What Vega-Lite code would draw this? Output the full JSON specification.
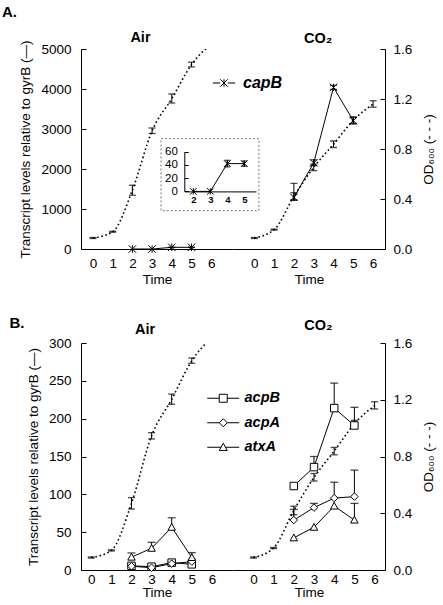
{
  "$schema": "https://vega.github.io/schema/vega-lite/v6.json",
  "background": "white",
  "padding": {"left": 1, "top": 5, "right": 5, "bottom": 0},
  "config": {
    "font": "Liberation Sans",
    "view": {"stroke": null},
    "axis": {"grid": false, "domainColor": "black", "tickColor": "black", "labelColor": "black", "titleColor": "black", "titleFontWeight": "normal", "labelFontSize": 13.5, "titleFontSize": 13.5, "domainWidth": 1, "tickWidth": 1},
    "title": {"color": "black"}
  },
  "datasets": {
    "od": [
      {"cond": "Air", "t": 0, "v": 0.088, "lo": 0.084, "hi": 0.092},
      {"cond": "Air", "t": 1, "v": 0.138, "lo": 0.134, "hi": 0.142},
      {"cond": "Air", "t": 2, "v": 0.47, "lo": 0.43, "hi": 0.51},
      {"cond": "Air", "t": 3, "v": 0.946, "lo": 0.924, "hi": 0.968},
      {"cond": "Air", "t": 4, "v": 1.203, "lo": 1.168, "hi": 1.24},
      {"cond": "Air", "t": 5, "v": 1.475, "lo": 1.457, "hi": 1.494},
      {"cond": "Air", "t": 6, "v": 1.64, "lo": null, "hi": null},
      {"cond": "CO2", "t": 0, "v": 0.088, "lo": 0.084, "hi": 0.092},
      {"cond": "CO2", "t": 1, "v": 0.155, "lo": 0.151, "hi": 0.159},
      {"cond": "CO2", "t": 2, "v": 0.42, "lo": 0.39, "hi": 0.45},
      {"cond": "CO2", "t": 3, "v": 0.653, "lo": 0.627, "hi": 0.68},
      {"cond": "CO2", "t": 4, "v": 0.838, "lo": 0.812, "hi": 0.864},
      {"cond": "CO2", "t": 5, "v": 1.03, "lo": 1.005, "hi": 1.055},
      {"cond": "CO2", "t": 6, "v": 1.16, "lo": 1.135, "hi": 1.186}
    ],
    "capB": [
      {"cond": "Air", "gene": "capB", "t": 2, "v": 0, "lo": null, "hi": null},
      {"cond": "Air", "gene": "capB", "t": 3, "v": 0, "lo": null, "hi": null},
      {"cond": "Air", "gene": "capB", "t": 4, "v": 42, "lo": 37, "hi": 47},
      {"cond": "Air", "gene": "capB", "t": 5, "v": 42, "lo": 38, "hi": 46},
      {"cond": "CO2", "gene": "capB", "t": 2, "v": 1290, "lo": 1230, "hi": 1640},
      {"cond": "CO2", "gene": "capB", "t": 3, "v": 2150, "lo": 2090, "hi": 2230},
      {"cond": "CO2", "gene": "capB", "t": 4, "v": 4040, "lo": 3990, "hi": 4090},
      {"cond": "CO2", "gene": "capB", "t": 5, "v": 3208, "lo": 3125, "hi": 3300}
    ],
    "genesB": [
      {"cond": "Air", "gene": "acpB", "t": 2, "v": 5.5, "hi": 7.5},
      {"cond": "Air", "gene": "acpB", "t": 3, "v": 4.4, "hi": 6.5},
      {"cond": "Air", "gene": "acpB", "t": 4, "v": 9.7, "hi": 12},
      {"cond": "Air", "gene": "acpB", "t": 5, "v": 7.5, "hi": 10},
      {"cond": "Air", "gene": "acpA", "t": 2, "v": 5, "hi": 7},
      {"cond": "Air", "gene": "acpA", "t": 3, "v": 3, "hi": 5},
      {"cond": "Air", "gene": "acpA", "t": 4, "v": 8.4, "hi": 10.5},
      {"cond": "Air", "gene": "acpA", "t": 5, "v": 11, "hi": 14},
      {"cond": "Air", "gene": "atxA", "t": 2, "v": 17, "hi": 22.5},
      {"cond": "Air", "gene": "atxA", "t": 3, "v": 28.7, "hi": 36.6},
      {"cond": "Air", "gene": "atxA", "t": 4, "v": 56.5, "hi": 69},
      {"cond": "Air", "gene": "atxA", "t": 5, "v": 16.5, "hi": 23},
      {"cond": "CO2", "gene": "acpB", "t": 2, "v": 111, "hi": null},
      {"cond": "CO2", "gene": "acpB", "t": 3, "v": 136, "hi": 150},
      {"cond": "CO2", "gene": "acpB", "t": 4, "v": 214, "hi": 247},
      {"cond": "CO2", "gene": "acpB", "t": 5, "v": 191, "hi": 215},
      {"cond": "CO2", "gene": "acpA", "t": 2, "v": 66, "hi": 80},
      {"cond": "CO2", "gene": "acpA", "t": 3, "v": 82.5, "hi": 88},
      {"cond": "CO2", "gene": "acpA", "t": 4, "v": 95, "hi": 116},
      {"cond": "CO2", "gene": "acpA", "t": 5, "v": 97, "hi": 132},
      {"cond": "CO2", "gene": "atxA", "t": 2, "v": 42.5, "hi": null},
      {"cond": "CO2", "gene": "atxA", "t": 3, "v": 56.5, "hi": null},
      {"cond": "CO2", "gene": "atxA", "t": 4, "v": 84.5, "hi": null},
      {"cond": "CO2", "gene": "atxA", "t": 5, "v": 66, "hi": 88}
    ]
  },
  "vconcat": [
    {
      "width": 304,
      "height": 200,
      "title": {"text": "A.", "anchor": "start", "frame": "bounds", "fontSize": 15, "fontWeight": "bold", "offset": 10, "dx": -17},
      "resolve": {"scale": {"x": "independent", "y": "independent", "shape": "independent"}},
      "layer": [
        {
          "data": {"values": [{"box": "inset"}]},
          "mark": {"type": "rect", "fillOpacity": 0, "stroke": "#777777", "strokeWidth": 1, "strokeDash": [2, 2]},
          "encoding": {
            "x": {"datum": 0.1, "type": "quantitative", "scale": {"domain": [1.47, 5.69], "range": [103.3, 175], "nice": false, "zero": false}, "axis": null},
            "x2": {"datum": 5.86},
            "y": {"datum": 79.6, "type": "quantitative", "scale": {"domain": [0, 60], "range": [142.4, 102.7], "nice": false, "zero": false}, "axis": null},
            "y2": {"datum": -29.2}
          }
        },
        {
          "data": {"name": "od"},
          "transform": [{"filter": "datum.cond === 'Air'"}],
          "mark": {"type": "line", "stroke": "black", "strokeWidth": 1.6, "strokeDash": [1.6, 2.6], "interpolate": "monotone", "clip": true},
          "encoding": {
            "x": {"field": "t", "type": "quantitative", "scale": {"domain": [-0.609, 7.107], "range": [0, 152], "nice": false, "zero": false}, "axis": null},
            "y": {"field": "v", "type": "quantitative", "scale": {"domain": [0, 1.6], "nice": false, "zero": false}, "axis": null}
          }
        },
        {
          "data": {"name": "od"},
          "transform": [{"filter": "datum.cond === 'Air' && datum.lo != null"}],
          "mark": {"type": "rule", "stroke": "black", "strokeWidth": 1},
          "encoding": {
            "x": {"field": "t", "type": "quantitative", "scale": {"domain": [-0.609, 7.107], "range": [0, 152], "nice": false, "zero": false}, "axis": null},
            "y": {"field": "lo", "type": "quantitative", "scale": {"domain": [0, 1.6], "nice": false, "zero": false}, "axis": null},
            "y2": {"field": "hi"}
          }
        },
        {
          "data": {"name": "od"},
          "transform": [{"filter": "datum.cond === 'Air' && datum.lo != null"}, {"fold": ["lo", "hi"], "as": ["k", "e"]}],
          "mark": {"type": "tick", "orient": "horizontal", "color": "black", "size": 7, "thickness": 1.3},
          "encoding": {
            "x": {"field": "t", "type": "quantitative", "scale": {"domain": [-0.609, 7.107], "range": [0, 152], "nice": false, "zero": false}, "axis": null},
            "y": {"field": "e", "type": "quantitative", "scale": {"domain": [0, 1.6], "nice": false, "zero": false}, "axis": null}
          }
        },
        {
          "data": {"name": "od"},
          "transform": [{"filter": "datum.cond === 'CO2'"}],
          "mark": {"type": "line", "stroke": "black", "strokeWidth": 1.6, "strokeDash": [1.6, 2.6], "interpolate": "monotone", "clip": true},
          "encoding": {
            "x": {"field": "t", "type": "quantitative", "scale": {"domain": [-1.076, 6.601], "range": [152, 304], "nice": false, "zero": false}, "axis": null},
            "y": {"field": "v", "type": "quantitative", "scale": {"domain": [0, 1.6], "nice": false, "zero": false},
              "axis": {"orient": "right", "values": [0, 0.4, 0.8, 1.2, 1.6], "format": ".1f", "tickSize": -5, "labelPadding": 13, "title": "OD₆₀₀ (- - -)", "titleAngle": 270, "titlePadding": 24}}
          }
        },
        {
          "data": {"name": "od"},
          "transform": [{"filter": "datum.cond === 'CO2' && datum.lo != null"}],
          "mark": {"type": "rule", "stroke": "black", "strokeWidth": 1},
          "encoding": {
            "x": {"field": "t", "type": "quantitative", "scale": {"domain": [-1.076, 6.601], "range": [152, 304], "nice": false, "zero": false}, "axis": null},
            "y": {"field": "lo", "type": "quantitative", "scale": {"domain": [0, 1.6], "nice": false, "zero": false}, "axis": null},
            "y2": {"field": "hi"}
          }
        },
        {
          "data": {"name": "od"},
          "transform": [{"filter": "datum.cond === 'CO2' && datum.lo != null"}, {"fold": ["lo", "hi"], "as": ["k", "e"]}],
          "mark": {"type": "tick", "orient": "horizontal", "color": "black", "size": 7, "thickness": 1.3},
          "encoding": {
            "x": {"field": "t", "type": "quantitative", "scale": {"domain": [-1.076, 6.601], "range": [152, 304], "nice": false, "zero": false}, "axis": null},
            "y": {"field": "e", "type": "quantitative", "scale": {"domain": [0, 1.6], "nice": false, "zero": false}, "axis": null}
          }
        },
        {
          "data": {"name": "capB"},
          "transform": [{"filter": "datum.cond === 'Air'"}],
          "mark": {"type": "line", "stroke": "black", "strokeWidth": 1},
          "encoding": {
            "x": {"field": "t", "type": "quantitative", "scale": {"domain": [-0.609, 7.107], "range": [0, 152], "nice": false, "zero": false},
              "axis": {"orient": "bottom", "values": [0, 1, 2, 3, 4, 5, 6], "ticks": false, "labelPadding": 7, "title": "Time", "titlePadding": 3, "labelFlush": false}},
            "y": {"field": "v", "type": "quantitative", "scale": {"domain": [0, 5000], "nice": false, "zero": false},
              "axis": {"orient": "left", "values": [0, 1000, 2000, 3000, 4000, 5000], "format": "d", "tickSize": -5, "labelPadding": 15, "title": "Transcript levels relative to gyrB (—)", "titlePadding": 8}}
          }
        },
        {
          "data": {"name": "capB"},
          "transform": [{"filter": "datum.cond === 'Air' && datum.lo != null"}, {"fold": ["lo", "hi"], "as": ["k", "e"]}],
          "mark": {"type": "tick", "orient": "horizontal", "color": "black", "size": 7, "thickness": 1.2},
          "encoding": {
            "x": {"field": "t", "type": "quantitative", "scale": {"domain": [-0.609, 7.107], "range": [0, 152], "nice": false, "zero": false}, "axis": null},
            "y": {"field": "e", "type": "quantitative", "scale": {"domain": [0, 5000], "nice": false, "zero": false}, "axis": null}
          }
        },
        {
          "data": {"name": "capB"},
          "transform": [{"filter": "datum.cond === 'Air'"}],
          "mark": {"type": "point", "shape": "M-1,-1L1,1M-1,1L1,-1M0,-1L0,1", "size": 56, "filled": false, "stroke": "black", "strokeWidth": 1, "opacity": 1},
          "encoding": {
            "x": {"field": "t", "type": "quantitative", "scale": {"domain": [-0.609, 7.107], "range": [0, 152], "nice": false, "zero": false}, "axis": null},
            "y": {"field": "v", "type": "quantitative", "scale": {"domain": [0, 5000], "nice": false, "zero": false}, "axis": null}
          }
        },
        {
          "data": {"name": "capB"},
          "transform": [{"filter": "datum.cond === 'CO2'"}],
          "mark": {"type": "line", "stroke": "black", "strokeWidth": 1},
          "encoding": {
            "x": {"field": "t", "type": "quantitative", "scale": {"domain": [-1.076, 6.601], "range": [152, 304], "nice": false, "zero": false},
              "axis": {"orient": "bottom", "values": [0, 1, 2, 3, 4, 5, 6], "ticks": false, "labelPadding": 7, "title": "Time", "titlePadding": 3, "labelFlush": false}},
            "y": {"field": "v", "type": "quantitative", "scale": {"domain": [0, 5000], "nice": false, "zero": false}, "axis": null}
          }
        },
        {
          "data": {"name": "capB"},
          "transform": [{"filter": "datum.cond === 'CO2' && datum.lo != null"}],
          "mark": {"type": "rule", "stroke": "black", "strokeWidth": 1},
          "encoding": {
            "x": {"field": "t", "type": "quantitative", "scale": {"domain": [-1.076, 6.601], "range": [152, 304], "nice": false, "zero": false}, "axis": null},
            "y": {"field": "lo", "type": "quantitative", "scale": {"domain": [0, 5000], "nice": false, "zero": false}, "axis": null},
            "y2": {"field": "hi"}
          }
        },
        {
          "data": {"name": "capB"},
          "transform": [{"filter": "datum.cond === 'CO2' && datum.lo != null"}, {"fold": ["lo", "hi"], "as": ["k", "e"]}],
          "mark": {"type": "tick", "orient": "horizontal", "color": "black", "size": 7, "thickness": 1.2},
          "encoding": {
            "x": {"field": "t", "type": "quantitative", "scale": {"domain": [-1.076, 6.601], "range": [152, 304], "nice": false, "zero": false}, "axis": null},
            "y": {"field": "e", "type": "quantitative", "scale": {"domain": [0, 5000], "nice": false, "zero": false}, "axis": null}
          }
        },
        {
          "data": {"name": "capB"},
          "transform": [{"filter": "datum.cond === 'CO2'"}],
          "mark": {"type": "point", "shape": "M-1,-1L1,1M-1,1L1,-1M0,-1L0,1", "size": 56, "filled": false, "stroke": "black", "strokeWidth": 1, "opacity": 1},
          "encoding": {
            "x": {"field": "t", "type": "quantitative", "scale": {"domain": [-1.076, 6.601], "range": [152, 304], "nice": false, "zero": false}, "axis": null},
            "y": {"field": "v", "type": "quantitative", "scale": {"domain": [0, 5000], "nice": false, "zero": false}, "axis": null}
          }
        },
        {
          "data": {"name": "capB"},
          "transform": [{"filter": "datum.cond === 'Air'"}],
          "mark": {"type": "line", "stroke": "black", "strokeWidth": 1},
          "encoding": {
            "x": {"field": "t", "type": "quantitative", "scale": {"domain": [1.47, 5.69], "range": [103.3, 175], "nice": false, "zero": false},
              "axis": {"orient": "bottom", "offset": -57.6, "values": [2, 3, 4, 5], "ticks": false, "labelPadding": 3, "labelFontSize": 9.5, "labelFontWeight": "bold", "title": null, "labelFlush": false}},
            "y": {"field": "v", "type": "quantitative", "scale": {"domain": [0, 60], "range": [142.4, 102.7], "nice": false, "zero": false},
              "axis": {"orient": "left", "offset": -103.3, "values": [0, 20, 40, 60], "tickSize": -4, "labelPadding": 11, "labelFontSize": 11.5, "title": null, "labelFlush": false}}
          }
        },
        {
          "data": {"name": "capB"},
          "transform": [{"filter": "datum.cond === 'Air' && datum.lo != null"}],
          "mark": {"type": "rule", "stroke": "black", "strokeWidth": 1},
          "encoding": {
            "x": {"field": "t", "type": "quantitative", "scale": {"domain": [1.47, 5.69], "range": [103.3, 175], "nice": false, "zero": false}, "axis": null},
            "y": {"field": "lo", "type": "quantitative", "scale": {"domain": [0, 60], "range": [142.4, 102.7], "nice": false, "zero": false}, "axis": null},
            "y2": {"field": "hi"}
          }
        },
        {
          "data": {"name": "capB"},
          "transform": [{"filter": "datum.cond === 'Air' && datum.lo != null"}, {"fold": ["lo", "hi"], "as": ["k", "e"]}],
          "mark": {"type": "tick", "orient": "horizontal", "color": "black", "size": 6, "thickness": 1.2},
          "encoding": {
            "x": {"field": "t", "type": "quantitative", "scale": {"domain": [1.47, 5.69], "range": [103.3, 175], "nice": false, "zero": false}, "axis": null},
            "y": {"field": "e", "type": "quantitative", "scale": {"domain": [0, 60], "range": [142.4, 102.7], "nice": false, "zero": false}, "axis": null}
          }
        },
        {
          "data": {"name": "capB"},
          "transform": [{"filter": "datum.cond === 'Air'"}],
          "mark": {"type": "point", "shape": "M-1,-1L1,1M-1,1L1,-1M0,-1L0,1", "size": 42, "filled": false, "stroke": "black", "strokeWidth": 1, "opacity": 1},
          "encoding": {
            "x": {"field": "t", "type": "quantitative", "scale": {"domain": [1.47, 5.69], "range": [103.3, 175], "nice": false, "zero": false}, "axis": null},
            "y": {"field": "v", "type": "quantitative", "scale": {"domain": [0, 60], "range": [142.4, 102.7], "nice": false, "zero": false}, "axis": null}
          }
        },
        {
          "data": {"values": [{"label": "Air"}]},
          "mark": {"type": "text", "fontSize": 14.5, "fontWeight": "bold", "align": "center", "baseline": "alphabetic", "color": "black"},
          "encoding": {
            "text": {"field": "label"},
            "x": {"datum": 2.41, "type": "quantitative", "scale": {"domain": [-0.609, 7.107], "range": [0, 152], "nice": false, "zero": false}, "axis": null},
            "y": {"datum": 5165, "type": "quantitative", "scale": {"domain": [0, 5000], "nice": false, "zero": false}, "axis": null}
          }
        },
        {
          "data": {"values": [{"label": "CO₂"}]},
          "mark": {"type": "text", "fontSize": 14.5, "fontWeight": "bold", "align": "center", "baseline": "alphabetic", "color": "black"},
          "encoding": {
            "text": {"field": "label"},
            "x": {"datum": 3.22, "type": "quantitative", "scale": {"domain": [-1.076, 6.601], "range": [152, 304], "nice": false, "zero": false}, "axis": null},
            "y": {"datum": 5150, "type": "quantitative", "scale": {"domain": [0, 5000], "nice": false, "zero": false}, "axis": null}
          }
        },
        {
          "data": {"name": "capB"},
          "transform": [{"filter": "datum.t > 100"}],
          "mark": {"type": "point", "filled": false, "stroke": "black", "strokeWidth": 1},
          "encoding": {
            "x": {"field": "t", "type": "quantitative", "scale": {"domain": [-0.609, 7.107], "range": [0, 152], "nice": false, "zero": false}, "axis": null},
            "y": {"field": "v", "type": "quantitative", "scale": {"domain": [0, 5000], "nice": false, "zero": false}, "axis": null},
            "shape": {"field": "gene", "type": "nominal",
              "scale": {"domain": ["capB"], "range": ["M-3,0L-1,0M1,0L3,0M-1,-1L1,1M-1,1L1,-1M0,-1L0,1"]},
              "legend": {"orient": "none", "legendX": 135, "legendY": 26, "title": null, "padding": 0, "symbolSize": 56, "symbolStrokeColor": "black", "symbolStrokeWidth": 1, "symbolFillColor": "transparent", "symbolOpacity": 1, "labelFontSize": 16, "labelFontWeight": "bold", "labelFontStyle": "italic", "labelColor": "black", "labelOffset": 11}}
          }
        }
      ]
    },
    {
      "width": 304,
      "height": 227,
      "title": {"text": "B.", "anchor": "start", "frame": "bounds", "fontSize": 15, "fontWeight": "bold", "offset": -13, "dx": -17},
      "resolve": {"scale": {"x": "independent", "y": "independent", "shape": "independent"}},
      "layer": [
        {
          "data": {"name": "od"},
          "transform": [{"filter": "datum.cond === 'Air'"}],
          "mark": {"type": "line", "stroke": "black", "strokeWidth": 1.6, "strokeDash": [1.6, 2.6], "interpolate": "monotone", "clip": true},
          "encoding": {
            "x": {"field": "t", "type": "quantitative", "scale": {"domain": [-0.512, 7.05], "range": [0, 152], "nice": false, "zero": false}, "axis": null},
            "y": {"field": "v", "type": "quantitative", "scale": {"domain": [0, 1.6], "nice": false, "zero": false}, "axis": null}
          }
        },
        {
          "data": {"name": "od"},
          "transform": [{"filter": "datum.cond === 'Air' && datum.lo != null"}],
          "mark": {"type": "rule", "stroke": "black", "strokeWidth": 1},
          "encoding": {
            "x": {"field": "t", "type": "quantitative", "scale": {"domain": [-0.512, 7.05], "range": [0, 152], "nice": false, "zero": false}, "axis": null},
            "y": {"field": "lo", "type": "quantitative", "scale": {"domain": [0, 1.6], "nice": false, "zero": false}, "axis": null},
            "y2": {"field": "hi"}
          }
        },
        {
          "data": {"name": "od"},
          "transform": [{"filter": "datum.cond === 'Air' && datum.lo != null"}, {"fold": ["lo", "hi"], "as": ["k", "e"]}],
          "mark": {"type": "tick", "orient": "horizontal", "color": "black", "size": 7, "thickness": 1.3},
          "encoding": {
            "x": {"field": "t", "type": "quantitative", "scale": {"domain": [-0.512, 7.05], "range": [0, 152], "nice": false, "zero": false}, "axis": null},
            "y": {"field": "e", "type": "quantitative", "scale": {"domain": [0, 1.6], "nice": false, "zero": false}, "axis": null}
          }
        },
        {
          "data": {"name": "od"},
          "transform": [{"filter": "datum.cond === 'CO2'"}],
          "mark": {"type": "line", "stroke": "black", "strokeWidth": 1.6, "strokeDash": [1.6, 2.6], "interpolate": "monotone", "clip": true},
          "encoding": {
            "x": {"field": "t", "type": "quantitative", "scale": {"domain": [-1.01, 6.515], "range": [152, 304], "nice": false, "zero": false}, "axis": null},
            "y": {"field": "v", "type": "quantitative", "scale": {"domain": [0, 1.6], "nice": false, "zero": false},
              "axis": {"orient": "right", "values": [0, 0.4, 0.8, 1.2, 1.6], "format": ".1f", "tickSize": -5, "labelPadding": 13, "title": "OD₆₀₀ (- - -)", "titleAngle": 270, "titlePadding": 24}}
          }
        },
        {
          "data": {"name": "od"},
          "transform": [{"filter": "datum.cond === 'CO2' && datum.lo != null"}],
          "mark": {"type": "rule", "stroke": "black", "strokeWidth": 1},
          "encoding": {
            "x": {"field": "t", "type": "quantitative", "scale": {"domain": [-1.01, 6.515], "range": [152, 304], "nice": false, "zero": false}, "axis": null},
            "y": {"field": "lo", "type": "quantitative", "scale": {"domain": [0, 1.6], "nice": false, "zero": false}, "axis": null},
            "y2": {"field": "hi"}
          }
        },
        {
          "data": {"name": "od"},
          "transform": [{"filter": "datum.cond === 'CO2' && datum.lo != null"}, {"fold": ["lo", "hi"], "as": ["k", "e"]}],
          "mark": {"type": "tick", "orient": "horizontal", "color": "black", "size": 7, "thickness": 1.3},
          "encoding": {
            "x": {"field": "t", "type": "quantitative", "scale": {"domain": [-1.01, 6.515], "range": [152, 304], "nice": false, "zero": false}, "axis": null},
            "y": {"field": "e", "type": "quantitative", "scale": {"domain": [0, 1.6], "nice": false, "zero": false}, "axis": null}
          }
        },
        {
          "data": {"name": "genesB"},
          "transform": [{"filter": "datum.cond === 'Air'"}],
          "mark": {"type": "line", "stroke": "black", "strokeWidth": 1},
          "encoding": {
            "detail": {"field": "gene"},
            "x": {"field": "t", "type": "quantitative", "scale": {"domain": [-0.512, 7.05], "range": [0, 152], "nice": false, "zero": false},
              "axis": {"orient": "bottom", "values": [0, 1, 2, 3, 4, 5, 6], "ticks": false, "labelPadding": 2, "title": "Time", "titlePadding": 0, "labelFlush": false}},
            "y": {"field": "v", "type": "quantitative", "scale": {"domain": [0, 300], "nice": false, "zero": false},
              "axis": {"orient": "left", "values": [0, 50, 100, 150, 200, 250, 300], "format": "d", "tickSize": -5, "labelPadding": 15, "title": "Transcript levels relative to gyrB (—)", "titlePadding": 8}}
          }
        },
        {
          "data": {"name": "genesB"},
          "transform": [{"filter": "datum.cond === 'Air' && datum.hi != null"}],
          "mark": {"type": "rule", "stroke": "black", "strokeWidth": 1},
          "encoding": {
            "x": {"field": "t", "type": "quantitative", "scale": {"domain": [-0.512, 7.05], "range": [0, 152], "nice": false, "zero": false}, "axis": null},
            "y": {"field": "v", "type": "quantitative", "scale": {"domain": [0, 300], "nice": false, "zero": false}, "axis": null},
            "y2": {"field": "hi"}
          }
        },
        {
          "data": {"name": "genesB"},
          "transform": [{"filter": "datum.cond === 'Air' && datum.hi != null"}],
          "mark": {"type": "tick", "orient": "horizontal", "color": "black", "size": 8, "thickness": 1.3},
          "encoding": {
            "x": {"field": "t", "type": "quantitative", "scale": {"domain": [-0.512, 7.05], "range": [0, 152], "nice": false, "zero": false}, "axis": null},
            "y": {"field": "hi", "type": "quantitative", "scale": {"domain": [0, 300], "nice": false, "zero": false}, "axis": null}
          }
        },
        {
          "data": {"name": "genesB"},
          "transform": [{"filter": "datum.cond === 'Air'"}],
          "mark": {"type": "point", "size": 56, "filled": true, "fill": "white", "stroke": "black", "strokeWidth": 1, "opacity": 1},
          "encoding": {
            "x": {"field": "t", "type": "quantitative", "scale": {"domain": [-0.512, 7.05], "range": [0, 152], "nice": false, "zero": false}, "axis": null},
            "y": {"field": "v", "type": "quantitative", "scale": {"domain": [0, 300], "nice": false, "zero": false}, "axis": null},
            "shape": {"field": "gene", "type": "nominal", "scale": {"domain": ["acpB", "acpA", "atxA"], "range": ["M-1,-1L1,-1L1,1L-1,1Z", "M0,-1L1,0L0,1L-1,0Z", "M0,-1L1,0.8L-1,0.8Z"]}, "legend": null}
          }
        },
        {
          "data": {"name": "genesB"},
          "transform": [{"filter": "datum.cond === 'CO2'"}],
          "mark": {"type": "line", "stroke": "black", "strokeWidth": 1},
          "encoding": {
            "detail": {"field": "gene"},
            "x": {"field": "t", "type": "quantitative", "scale": {"domain": [-1.01, 6.515], "range": [152, 304], "nice": false, "zero": false},
              "axis": {"orient": "bottom", "values": [0, 1, 2, 3, 4, 5, 6], "ticks": false, "labelPadding": 2, "title": "Time", "titlePadding": 0, "labelFlush": false}},
            "y": {"field": "v", "type": "quantitative", "scale": {"domain": [0, 300], "nice": false, "zero": false}, "axis": null}
          }
        },
        {
          "data": {"name": "genesB"},
          "transform": [{"filter": "datum.cond === 'CO2' && datum.hi != null"}],
          "mark": {"type": "rule", "stroke": "black", "strokeWidth": 1},
          "encoding": {
            "x": {"field": "t", "type": "quantitative", "scale": {"domain": [-1.01, 6.515], "range": [152, 304], "nice": false, "zero": false}, "axis": null},
            "y": {"field": "v", "type": "quantitative", "scale": {"domain": [0, 300], "nice": false, "zero": false}, "axis": null},
            "y2": {"field": "hi"}
          }
        },
        {
          "data": {"name": "genesB"},
          "transform": [{"filter": "datum.cond === 'CO2' && datum.hi != null"}],
          "mark": {"type": "tick", "orient": "horizontal", "color": "black", "size": 8, "thickness": 1.3},
          "encoding": {
            "x": {"field": "t", "type": "quantitative", "scale": {"domain": [-1.01, 6.515], "range": [152, 304], "nice": false, "zero": false}, "axis": null},
            "y": {"field": "hi", "type": "quantitative", "scale": {"domain": [0, 300], "nice": false, "zero": false}, "axis": null}
          }
        },
        {
          "data": {"name": "genesB"},
          "transform": [{"filter": "datum.cond === 'CO2'"}],
          "mark": {"type": "point", "size": 56, "filled": true, "fill": "white", "stroke": "black", "strokeWidth": 1, "opacity": 1},
          "encoding": {
            "x": {"field": "t", "type": "quantitative", "scale": {"domain": [-1.01, 6.515], "range": [152, 304], "nice": false, "zero": false}, "axis": null},
            "y": {"field": "v", "type": "quantitative", "scale": {"domain": [0, 300], "nice": false, "zero": false}, "axis": null},
            "shape": {"field": "gene", "type": "nominal", "scale": {"domain": ["acpB", "acpA", "atxA"], "range": ["M-1,-1L1,-1L1,1L-1,1Z", "M0,-1L1,0L0,1L-1,0Z", "M0,-1L1,0.8L-1,0.8Z"]}, "legend": null}
          }
        },
        {
          "data": {"values": [{"label": "Air"}]},
          "mark": {"type": "text", "fontSize": 14.5, "fontWeight": "bold", "align": "center", "baseline": "alphabetic", "color": "black"},
          "encoding": {
            "text": {"field": "label"},
            "x": {"datum": 2.68, "type": "quantitative", "scale": {"domain": [-0.512, 7.05], "range": [0, 152], "nice": false, "zero": false}, "axis": null},
            "y": {"datum": 312, "type": "quantitative", "scale": {"domain": [0, 300], "nice": false, "zero": false}, "axis": null}
          }
        },
        {
          "data": {"values": [{"label": "CO₂"}]},
          "mark": {"type": "text", "fontSize": 14.5, "fontWeight": "bold", "align": "center", "baseline": "alphabetic", "color": "black"},
          "encoding": {
            "text": {"field": "label"},
            "x": {"datum": 3.22, "type": "quantitative", "scale": {"domain": [-1.01, 6.515], "range": [152, 304], "nice": false, "zero": false}, "axis": null},
            "y": {"datum": 317, "type": "quantitative", "scale": {"domain": [0, 300], "nice": false, "zero": false}, "axis": null}
          }
        },
        {
          "data": {"name": "genesB"},
          "transform": [{"filter": "datum.t > 100"}],
          "mark": {"type": "point", "filled": false, "stroke": "black", "strokeWidth": 1},
          "encoding": {
            "x": {"field": "t", "type": "quantitative", "scale": {"domain": [-0.512, 7.05], "range": [0, 152], "nice": false, "zero": false}, "axis": null},
            "y": {"field": "v", "type": "quantitative", "scale": {"domain": [0, 300], "nice": false, "zero": false}, "axis": null},
            "shape": {"field": "gene", "type": "nominal",
              "scale": {"domain": ["acpB", "acpA", "atxA"], "range": ["M-4,0L-1,0M1,0L4,0M-1,-1L1,-1L1,1L-1,1Z", "M-4,0L-1,0M1,0L4,0M0,-1L1,0L0,1L-1,0Z", "M-4,0L-0.56,0M0.56,0L4,0M0,-1L1,0.8L-1,0.8Z"]},
              "legend": {"orient": "none", "legendX": 135, "legendY": 48, "title": null, "padding": 0, "symbolSize": 64, "symbolStrokeColor": "black", "symbolStrokeWidth": 1, "symbolFillColor": "white", "symbolOpacity": 1, "labelFontSize": 14.5, "labelFontWeight": "bold", "labelFontStyle": "italic", "labelColor": "black", "labelOffset": 14, "rowPadding": 9.5,
                "encode": {"symbols": {"update": {"stroke": {"value": "black"}, "fill": {"value": "white"}, "strokeWidth": {"value": 1}, "opacity": {"value": 1}}}}}}
          }
        }
      ]
    }
  ],
  "spacing": 30
}
